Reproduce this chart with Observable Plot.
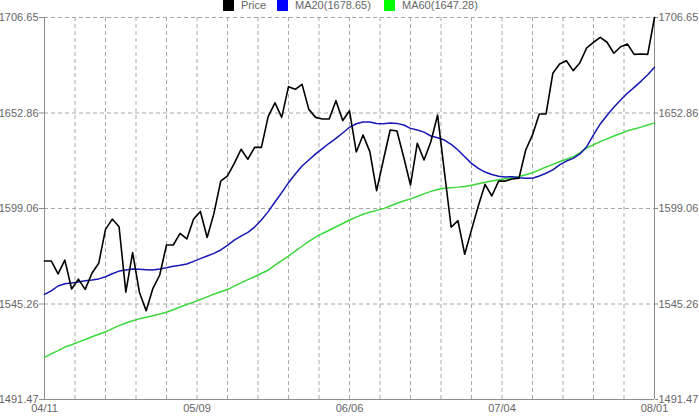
<!DOCTYPE html>
<html>
<head>
<meta charset="utf-8">
<script src="https://cdn.jsdelivr.net/npm/d3@7"></script>
<script src="https://cdn.jsdelivr.net/npm/@observablehq/plot@0.6"></script>
<style>
  html, body { margin: 0; padding: 0; background: #fff; }
  #wrap { position: relative; width: 699px; height: 419px; font-family: "Liberation Sans", Arial, sans-serif; }
  #legend { position: absolute; top: 0; left: 0; width: 699px; height: 12px; font-size: 11px; color: #666; }
  #legend .item { position: absolute; top: 0; height: 12px; line-height: 11px; white-space: nowrap; }
  #legend .sw { display: inline-block; width: 11px; height: 11px; vertical-align: top; margin-right: 7px; }
  svg { display: block; }
</style>
</head>
<body>
<div id="wrap">
  <div id="chart"></div>
  <div id="legend"></div>
</div>
<script>
// ---- data ----
const price = [
  1569.5, 1569.5, 1562.2, 1570.0, 1553.7, 1559.3, 1553.5, 1562.6, 1568.2, 1587.3,
  1593.1, 1588.8, 1552.0, 1574.2, 1551.9, 1541.5, 1554.1, 1561.6, 1578.5, 1578.5,
  1585.1, 1581.9, 1593.1, 1597.4, 1582.7, 1596.3, 1614.5, 1617.4, 1624.5, 1632.4,
  1626.8, 1633.5, 1633.5, 1650.8, 1658.6, 1650.4, 1667.7, 1666.2, 1669.0, 1654.9,
  1650.4, 1649.5, 1649.5, 1659.8, 1648.6, 1654.1, 1630.9, 1640.5, 1631.1, 1609.1,
  1626.4, 1643.3, 1642.7, 1627.9, 1612.3, 1635.8, 1626.4, 1636.7, 1651.7, 1619.8,
  1588.5, 1592.2, 1573.3, 1587.0, 1600.5, 1612.7, 1606.1, 1614.5, 1614.5, 1615.7,
  1616.1, 1632.0, 1640.5, 1652.3, 1652.3, 1675.2, 1680.5, 1682.3, 1676.7, 1681.2,
  1689.6, 1692.7, 1695.5, 1692.7, 1686.5, 1690.2, 1691.7, 1685.9, 1686.1, 1685.9,
  1706.65
];
const ma20 = [
  1550.7, 1552.7, 1555.4, 1556.7, 1557.1, 1557.7, 1558.4, 1558.8, 1559.4, 1560.6,
  1562.3, 1563.8, 1564.4, 1565.0, 1564.8, 1564.6, 1564.4, 1565.0, 1565.7, 1566.5,
  1567.1, 1567.8, 1569.3, 1570.8, 1572.3, 1573.8, 1575.7, 1578.3, 1581.2, 1583.5,
  1585.6, 1588.6, 1592.6, 1597.3, 1602.7, 1608.0, 1613.6, 1618.5, 1623.0, 1626.4,
  1629.8, 1632.8, 1635.8, 1638.6, 1641.6, 1644.8, 1646.8, 1647.8, 1647.8, 1646.9,
  1646.8, 1647.2, 1647.0, 1646.1, 1644.2, 1643.3, 1642.1, 1639.9, 1638.9, 1637.6,
  1635.2, 1632.0, 1628.2, 1624.5, 1621.7, 1619.6, 1618.2, 1617.2, 1616.8, 1617.0,
  1616.4, 1616.1, 1616.1, 1617.4, 1618.9, 1620.8, 1623.6, 1625.8, 1627.3, 1629.8,
  1633.9, 1640.5, 1646.7, 1651.6, 1656.1, 1660.2, 1664.0, 1667.3, 1670.7, 1674.4,
  1678.65
];
const ma60 = [
  1515.2, 1517.2, 1519.0, 1521.0, 1522.3, 1523.8, 1525.3, 1526.8, 1528.2, 1529.6,
  1531.4, 1533.1, 1534.6, 1535.8, 1536.9, 1537.8, 1538.6, 1539.6, 1540.6, 1542.0,
  1543.6, 1545.0, 1546.3, 1547.8, 1549.3, 1550.8, 1552.2, 1553.4, 1555.3, 1557.2,
  1559.0, 1560.6, 1562.6, 1564.3, 1567.2, 1569.7, 1572.3, 1575.0, 1577.8, 1580.5,
  1582.9, 1585.0, 1586.8, 1588.8, 1590.6, 1592.6, 1594.2, 1595.8, 1597.0, 1598.0,
  1599.0, 1600.5, 1602.0, 1603.3, 1604.5, 1605.8, 1607.3, 1608.7, 1609.8, 1610.5,
  1610.8, 1611.1, 1611.5, 1612.1, 1613.0, 1613.9, 1614.6, 1615.2, 1615.8, 1616.4,
  1617.1, 1618.1, 1619.2, 1620.8, 1622.4, 1623.9, 1625.4, 1626.8, 1628.2, 1630.5,
  1633.2, 1635.0, 1636.7, 1638.3, 1639.9, 1641.3, 1642.8, 1643.8, 1644.9, 1646.1,
  1647.28
];
const yTicks = [1491.47, 1545.26, 1599.06, 1652.86, 1706.65];
const xLabels = ["04/11", "05/09", "06/06", "07/04", "08/01"];
const seriesNames = ["Price", "MA20(1678.65)", "MA60(1647.28)"];
const seriesColors = ["#000000", "#0000ff", "#00ff00"];
const lineColors = ["#000000", "#1616b4", "#3ad83a"];

// ---- derived structures ----
const n = price.length;                 // 91 points, index 0..90
const xMax = n - 1;
const gridStep = xMax / 20;             // 20 vertical grid intervals
const xGrid = d3.range(1, 20).map(k => k * gridStep);
const xLabelPos = xLabels.map((_, k) => k * xMax / (xLabels.length - 1));
const rows = [];
[price, ma20, ma60].forEach((arr, s) => arr.forEach((v, i) => rows.push({i, v, s})));

const grid = {stroke: "#a8a8a8", strokeOpacity: 1, strokeDasharray: "4,3", strokeWidth: 1};
const axisStyle = {fontSize: 11, fill: "#666"};

const chart = Plot.plot({
  width: 699,
  height: 419,
  marginLeft: 44,
  marginRight: 45,
  marginTop: 17,
  marginBottom: 20,
  style: {fontFamily: "'Liberation Sans', Arial, sans-serif", fontSize: "11px", color: "#666", background: "#fff"},
  x: {domain: [0, xMax]},
  y: {domain: [yTicks[0], yTicks[yTicks.length - 1]]},
  marks: [
    Plot.ruleX(xGrid, grid),
    Plot.ruleY(yTicks.slice(1), grid),
    Plot.ruleX([0, xMax], {stroke: "#8c8c8c"}),
    Plot.ruleY([yTicks[0]], {stroke: "#8c8c8c"}),
    Plot.axisY({anchor: "left", ticks: yTicks, tickFormat: d3.format(".2f"), tickSize: 5, tickPadding: 1, stroke: "#8c8c8c", label: null, ...axisStyle}),
    Plot.axisY({anchor: "right", ticks: yTicks, tickFormat: d3.format(".2f"), tickSize: 3, tickPadding: 1, stroke: "#8c8c8c", label: null, ...axisStyle}),
    Plot.axisX({ticks: xLabelPos, tickFormat: (d, k) => xLabels[k], tickSize: 0, tickPadding: 5, label: null, ...axisStyle}),
    Plot.line(rows.filter(r => r.s === 2), {x: "i", y: "v", stroke: lineColors[2], strokeWidth: 1.5}),
    Plot.line(rows.filter(r => r.s === 1), {x: "i", y: "v", stroke: lineColors[1], strokeWidth: 1.5}),
    Plot.line(rows.filter(r => r.s === 0), {x: "i", y: "v", stroke: lineColors[0], strokeWidth: 1.6})
  ]
});
document.getElementById("chart").appendChild(chart);

// ---- legend ----
const legendLeft = [223, 277, 384];
const legend = document.getElementById("legend");
seriesNames.forEach((name, k) => {
  const item = document.createElement("div");
  item.className = "item";
  item.style.left = legendLeft[k] + "px";
  const sw = document.createElement("span");
  sw.className = "sw";
  sw.style.background = seriesColors[k];
  item.appendChild(sw);
  item.appendChild(document.createTextNode(name));
  legend.appendChild(item);
});
</script>
</body>
</html>
